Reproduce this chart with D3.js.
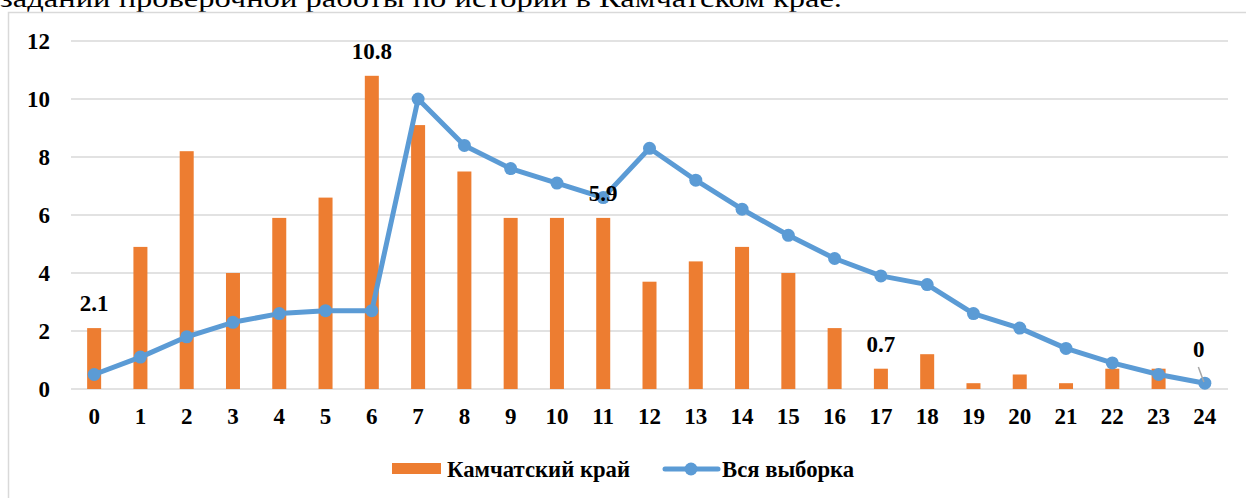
<!DOCTYPE html>
<html>
<head>
<meta charset="utf-8">
<script src="https://cdn.jsdelivr.net/npm/d3@7"></script>
<style>
  body { margin: 0; background: #fff; }
  svg { display: block; }
</style>
</head>
<body>
<div id="main"></div>
<script>
var categories = ["0", "1", "2", "3", "4", "5", "6", "7", "8", "9", "10", "11", "12",
  "13", "14", "15", "16", "17", "18", "19", "20", "21", "22", "23", "24"];
var kamchatka = [2.1, 4.9, 8.2, 4.0, 5.9, 6.6, 10.8, 9.1, 7.5, 5.9, 5.9, 5.9, 3.7,
  4.4, 4.9, 4.0, 2.1, 0.7, 1.2, 0.2, 0.5, 0.2, 0.7, 0.7, 0];
var sample = [0.5, 1.1, 1.8, 2.3, 2.6, 2.7, 2.7, 10.0, 8.4, 7.6, 7.1, 6.6, 8.3,
  7.2, 6.2, 5.3, 4.5, 3.9, 3.6, 2.6, 2.1, 1.4, 0.9, 0.5, 0.2];
var yTicks = [0, 2, 4, 6, 8, 10, 12];
// bars that carry a value label in the original
var labelled = ["0", "6", "11", "17", "24"];
var seriesNames = ["Камчатский край", "Вся выборка"];
var caption = "заданий проверочной работы по истории в Камчатском крае.";

var W = 1246, H = 498;
var barColor = "#ED7D31", lineColor = "#5B9BD5", gridColor = "#d9d9d9";
var font = "'Liberation Serif', 'Times New Roman', serif";

var svg = d3.select("#main").append("svg")
  .attr("width", W).attr("height", H)
  .style("font-family", font);

// text of the page above the chart, cut by the top edge
svg.append("text")
  .attr("x", 0).attr("y", 7)
  .attr("textLength", 842).attr("lengthAdjust", "spacingAndGlyphs")
  .style("font-size", "26px")
  .text(caption);

// chart frame
svg.append("rect")
  .attr("x", 8.5).attr("y", 12.5)
  .attr("width", 1260).attr("height", 500)
  .attr("fill", "none")
  .attr("stroke", gridColor)
  .attr("stroke-width", 1.5);

var x = d3.scaleBand().domain(categories).range([71, 1228]).padding(0);
var y = d3.scaleLinear().domain([0, 12]).range([389, 41]);
var cx = d => x(d) + x.bandwidth() / 2;
var barW = 14;

// gridlines
svg.append("g").selectAll("line")
  .data(yTicks).enter().append("line")
  .attr("x1", 71).attr("x2", 1228)
  .attr("y1", d => y(d)).attr("y2", d => y(d))
  .attr("stroke", gridColor).attr("stroke-width", 1.5);

// y axis labels
var yAxis = svg.append("g")
  .attr("transform", "translate(62,0)")
  .call(d3.axisLeft(y).tickValues(yTicks).tickSize(0).tickPadding(12).tickFormat(d3.format("d")));
yAxis.select(".domain").remove();
yAxis.selectAll("text")
  .style("font-family", font).style("font-size", "23px").style("font-weight", "bold")
  .attr("fill", "#000");

// x axis labels
var xAxis = svg.append("g")
  .attr("transform", "translate(0,389)")
  .call(d3.axisBottom(x).tickSize(0).tickPadding(19));
xAxis.select(".domain").remove();
xAxis.selectAll("text")
  .style("font-family", font).style("font-size", "23px").style("font-weight", "bold")
  .attr("fill", "#000");

// bars
svg.append("g").selectAll("rect")
  .data(categories).enter().append("rect")
  .attr("x", d => cx(d) - barW / 2)
  .attr("y", (d, i) => y(kamchatka[i]))
  .attr("width", barW)
  .attr("height", (d, i) => y(0) - y(kamchatka[i]))
  .attr("fill", barColor);

// line + markers
var line = d3.line()
  .x((d, i) => cx(categories[i]))
  .y(d => y(d));

svg.append("path")
  .datum(sample)
  .attr("d", line)
  .attr("fill", "none")
  .attr("stroke", lineColor)
  .attr("stroke-width", 5)
  .attr("stroke-linejoin", "round");

svg.append("g").selectAll("circle")
  .data(sample).enter().append("circle")
  .attr("cx", (d, i) => cx(categories[i]))
  .attr("cy", d => y(d))
  .attr("r", 6.5)
  .attr("fill", lineColor);

// leader line for the "0" label
var last = categories[categories.length - 1];
svg.append("line")
  .attr("x1", cx(last) - 6.5).attr("y1", 367)
  .attr("x2", cx(last) - 1).attr("y2", 382)
  .attr("stroke", "#a6a6a6").attr("stroke-width", 1.5);

// value labels
svg.append("g").selectAll("text")
  .data(labelled).enter().append("text")
  .attr("x", d => d === last ? cx(d) - 6 : cx(d))
  .attr("y", d => d === last ? 357 : y(kamchatka[categories.indexOf(d)]) - 17)
  .attr("text-anchor", "middle")
  .style("font-size", "23px").style("font-weight", "bold")
  .text(d => d3.format("")(kamchatka[categories.indexOf(d)]));

// legend
var legend = svg.append("g").style("font-size", "22.7px").style("font-weight", "bold");
legend.append("rect")
  .attr("x", 392).attr("y", 463).attr("width", 49).attr("height", 11)
  .attr("fill", barColor);
legend.append("text").attr("x", 447).attr("y", 477).text(seriesNames[0]);
legend.append("line")
  .attr("x1", 665).attr("x2", 718).attr("y1", 469).attr("y2", 469)
  .attr("stroke", lineColor).attr("stroke-width", 5).attr("stroke-linecap", "round");
legend.append("circle").attr("cx", 691).attr("cy", 469).attr("r", 6.5).attr("fill", lineColor);
legend.append("text").attr("x", 722).attr("y", 477).text(seriesNames[1]);
</script>
</body>
</html>
